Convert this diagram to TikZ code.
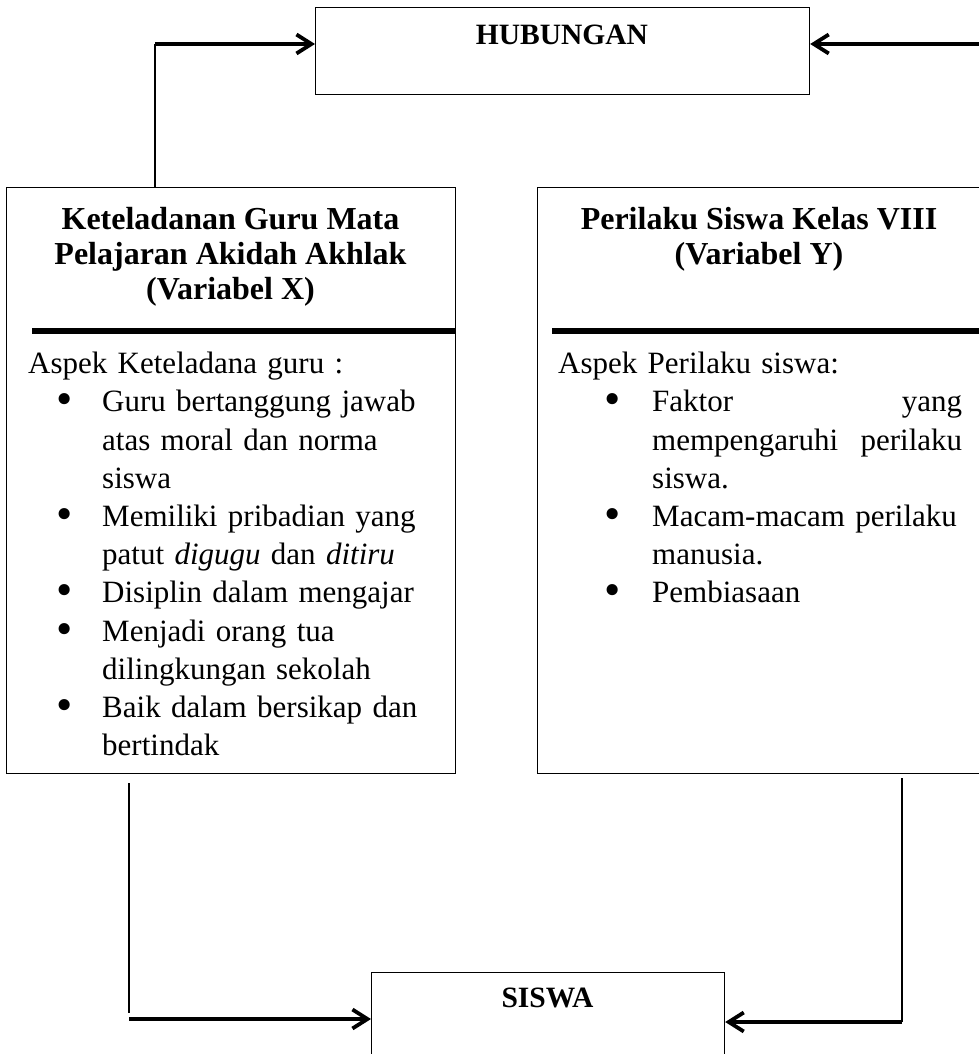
\documentclass[tikz,border=0pt]{standalone}
\usepackage{fontspec}
\setmainfont{Liberation Serif}
\usetikzlibrary{
    arrows.meta,
    positioning
}
\tikzset{
  panel/.style   = {draw, line width=1.2pt, anchor=north west, inner sep=0pt},
  heading/.style = {align=center, anchor=north, inner sep=0pt,
                    font=\bfseries\fontsize{32}{35}\selectfont},
  body/.style    = {align=left, anchor=north west, inner sep=0pt,
                    font=\fontsize{31}{38.2}\selectfont},
  tag/.style     = {anchor=base, inner sep=0pt,
                    font=\bfseries\fontsize{29.5}{33}\selectfont},
  rule/.style    = {line width=5.5pt},
  link/.style    = {line width=2pt},
  arr/.style     = {-{Straight Barb[length=15pt,width=19pt]}, line width=3.8pt}
}
\newcommand{\bigdot}{\raisebox{-3pt}[0pt][0pt]{\scalebox{1.5}{\textbullet}}}
\newcommand{\bulX}{\makebox[74pt][l]{\hspace*{28pt}\bigdot}}
\newcommand{\indX}{\hspace*{74pt}}
\newcommand{\bulY}{\makebox[94pt][l]{\hspace*{46pt}\bigdot}}
\newcommand{\indY}{\hspace*{94pt}}

\begin{document}
\begin{tikzpicture}[x=1pt, y=-1pt]
\path[use as bounding box] (0,0) rectangle (979,1054);
\clip (0,0) rectangle (979,1054);

% boxes
\node[panel, minimum width=494pt, minimum height=87pt] (hub) at (315,7) {};
\node[tag] (hubtext) at (562,45) {HUBUNGAN};

\node[panel, minimum width=449pt, minimum height=586pt] (boxX) at (6,187) {};
\node[panel, minimum width=444pt, minimum height=586pt] (boxY) at (537,187) {};

\node[panel, minimum width=353pt, minimum height=120pt] (siswa) at (371,972) {};
\node[tag] (siswatext) at (547.5,1007) {SISWA};

% headings
\node[heading] (headX) at (230.5,207) {Keteladanan Guru Mata\\Pelajaran Akidah Akhlak\\(Variabel X)};
\node[heading] (headY) at (759,207) {Perilaku Siswa Kelas VIII\\(Variabel Y)};

\draw[rule] (32,331) -- (boxX.east |- 0,331);
\draw[rule] (552,331) -- (boxY.east |- 0,331);

% lists
\node[body, text width=427pt] (listX) at (28,352) {Aspek Keteladana guru :\\
\bulX Guru bertanggung jawab\\
\indX atas moral dan norma\\
\indX siswa\\
\bulX Memiliki pribadian yang\\
\indX patut \textit{digugu} dan \textit{ditiru}\\
\bulX Disiplin dalam mengajar\\
\bulX Menjadi orang tua\\
\indX dilingkungan sekolah\\
\bulX Baik dalam bersikap dan\\
\indX bertindak};

\node[body, text width=404pt] (listY) at (558,352) {Aspek Perilaku siswa:\\
\bulY Faktor\hfill yang\\
\indY mempengaruhi\hfill perilaku\\
\indY siswa.\\
\bulY Macam-macam perilaku\\
\indY manusia.\\
\bulY Pembiasaan};

% connectors
\coordinate (upX) at (155,187);
\coordinate (kneeX) at (155,44);
\coordinate (offY) at (990,44);
\draw[link] (upX) -- (kneeX);
\draw[arr] (kneeX) -- (kneeX -| hub.west);
\draw[arr] (offY) -- (offY -| hub.east);

\coordinate (downX) at (129,783);
\coordinate (footX) at (129,1019);
\coordinate (downY) at (902,778);
\coordinate (footY) at (902,1022);
\draw[link] (downX) -- ([yshift=6pt]footX);
\draw[arr] (footX) -- (footX -| siswa.west);
\draw[link] (downY) -- (footY);
\draw[arr] (footY) -- (footY -| siswa.east);
\end{tikzpicture}
\end{document}
